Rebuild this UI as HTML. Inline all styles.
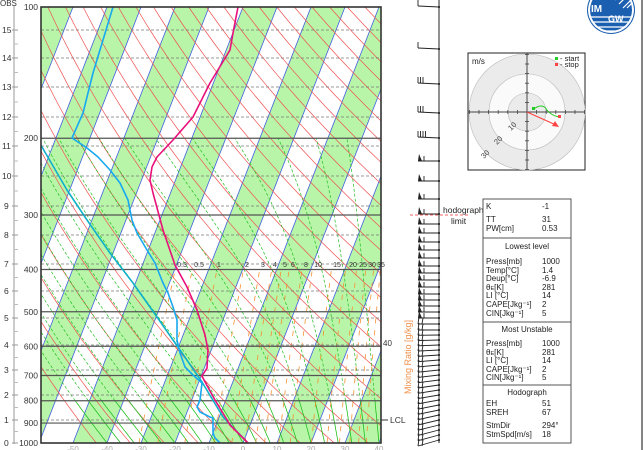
<!DOCTYPE html>
<html><head><meta charset="utf-8"><style>
body{margin:0;background:#fff;width:644px;height:450px;overflow:hidden}
svg{display:block}
text{font-family:"Liberation Sans",sans-serif}
</style></head><body>
<svg id="s" width="644" height="450" viewBox="0 0 644 450" xmlns="http://www.w3.org/2000/svg">
<defs><clipPath id="pc"><rect x="41" y="7" width="340" height="436"/></clipPath>
<clipPath id="lc"><circle cx="611" cy="10" r="23"/></clipPath></defs>
<rect width="644" height="450" fill="#fff"/>
<g id="plot" clip-path="url(#pc)"></g>
<rect x="41" y="7" width="340" height="436" fill="none" stroke="#333" stroke-width="1.6"/>
<line x1="14" y1="5" x2="14" y2="444" stroke="#999" stroke-width="1"/>
<g id="lax" font-size="8.5" fill="#333"></g>
<text x="0" y="6" font-size="8" fill="#333">OBS</text>
<g font-size="7" fill="#333" text-anchor="middle">
<text x="182" y="267">0.3</text><text x="199" y="267">0.5</text><text x="219" y="267">1</text>
<text x="247" y="267">2</text><text x="263" y="267">3</text><text x="275" y="267">4</text>
<text x="285" y="267">5</text><text x="293" y="267">6</text><text x="306" y="267">8</text>
<text x="318" y="267">10</text><text x="337" y="267">15</text><text x="353" y="267">20</text>
<text x="363" y="267">25</text><text x="372" y="267">30</text><text x="381" y="267">35</text>
</g>
<text x="383" y="346" font-size="8" fill="#333">40</text>
<line x1="381" y1="420" x2="388" y2="420" stroke="#333"/>
<text x="390" y="423" font-size="8.5" fill="#333">LCL</text>
<text transform="translate(411,357) rotate(-90)" font-size="9" fill="#f0904a" text-anchor="middle">Mixing Ratio [g/kg]</text>
<g font-size="8" fill="#aaa" text-anchor="middle" id="bt"></g>
<line x1="439" y1="0" x2="439" y2="443" stroke="#222" stroke-width="1"/>
<g id="wb" stroke="#222" stroke-width="0.9" fill="#222"></g>
<line x1="410" y1="215" x2="468" y2="215" stroke="#f03030" stroke-width="0.7" stroke-dasharray="3,2"/>
<text x="443" y="213" font-size="8.5" fill="#222">hodograph</text>
<text x="451" y="224" font-size="8.5" fill="#222">limit</text>
<line x1="642" y1="0" x2="642" y2="450" stroke="#333" stroke-width="1.2"/>
<!-- logo -->
<circle cx="611" cy="10" r="24" fill="#1a5fb0"/>
<g clip-path="url(#lc)">
<circle cx="611" cy="10" r="23" fill="#fff"/>
<circle cx="611" cy="10" r="21" fill="#1a5fb0"/>
<g stroke="#fff" stroke-width="1.2">
<line x1="615" y1="0" x2="630" y2="-15"/><line x1="619" y1="4" x2="638" y2="-15"/><line x1="623" y1="8" x2="642" y2="-11"/><line x1="627" y1="8" x2="642" y2="-7"/>
<line x1="588" y1="17" x2="636" y2="17"/><line x1="588" y1="22" x2="636" y2="22"/><line x1="588" y1="27" x2="636" y2="27"/><line x1="588" y1="31" x2="636" y2="31"/>
</g>
<text x="591" y="12" font-size="10" fill="#fff" font-weight="bold">IM</text>
<text x="608" y="22" font-size="9" fill="#fff" font-weight="bold">GW</text>
</g>
<!-- hodograph -->
<rect x="468" y="53" width="117" height="117" fill="#fff" stroke="#222" stroke-width="1"/>
<circle cx="527" cy="112" r="58" fill="#ebebeb" stroke="#bbb" stroke-width="0.6"/>
<circle cx="527" cy="112" r="38" fill="#fafafa" stroke="#bbb" stroke-width="0.6"/>
<circle cx="527" cy="112" r="19" fill="#ebebeb" stroke="#bbb" stroke-width="0.6"/>
<line x1="468" y1="112" x2="585" y2="112" stroke="#444" stroke-width="1"/>
<line x1="527" y1="53" x2="527" y2="170" stroke="#444" stroke-width="1"/>
<g id="ht" stroke="#444" stroke-width="0.8"></g>
<text x="472" y="64" font-size="8" fill="#222">m/s</text>
<rect x="555" y="57" width="3" height="3" fill="#2c2"/><text x="560" y="61" font-size="7.5" fill="#222">- start</text>
<rect x="555" y="63" width="3" height="3" fill="#f44"/><text x="560" y="67" font-size="7.5" fill="#222">- stop</text>
<g font-size="7.5" fill="#444">
<text transform="translate(511,131) rotate(-45)">10</text>
<text transform="translate(497,145) rotate(-45)">20</text>
<text transform="translate(484,159) rotate(-45)">30</text>
</g>
<path d="M534,109 C540,104 545,106 547,110 C550,114 554,116 559,117" fill="none" stroke="#2c2" stroke-width="1"/>
<rect x="532" y="107" width="3" height="3" fill="#2c2"/>
<rect x="558" y="115" width="3" height="3" fill="#f44"/>
<line x1="527" y1="112" x2="556" y2="125" stroke="#f44" stroke-width="1.2"/>
<polygon points="559,127 552,126 555,121" fill="#f44"/>
<!-- table -->
<g stroke="#555" stroke-width="1" fill="none">
<rect x="483" y="199" width="88" height="244"/>
<line x1="483" y1="238" x2="571" y2="238"/>
<line x1="483" y1="322" x2="571" y2="322"/>
<line x1="483" y1="385" x2="571" y2="385"/>
</g>
<g font-size="8" fill="#222">
<text x="486" y="209">K</text><text x="542" y="209">-1</text>
<text x="486" y="222">TT</text><text x="542" y="222">31</text>
<text x="486" y="231">PW[cm]</text><text x="542" y="231">0.53</text>
<text x="527" y="249" text-anchor="middle">Lowest level</text>
<text x="486" y="264">Press[mb]</text><text x="542" y="264">1000</text>
<text x="486" y="273">Temp[°C]</text><text x="542" y="273">1.4</text>
<text x="486" y="281">Deup[°C]</text><text x="542" y="281">-6.9</text>
<text x="486" y="290">θ<tspan font-size="5.5">E</tspan>[K]</text><text x="542" y="290">281</text>
<text x="486" y="298">LI [°C]</text><text x="542" y="298">14</text>
<text x="486" y="307">CAPE[Jkg⁻¹]</text><text x="542" y="307">2</text>
<text x="486" y="316">CIN[Jkg⁻¹]</text><text x="542" y="316">5</text>
<text x="527" y="332" text-anchor="middle">Most Unstable</text>
<text x="486" y="346">Press[mb]</text><text x="542" y="346">1000</text>
<text x="486" y="355">θ<tspan font-size="5.5">E</tspan>[K]</text><text x="542" y="355">281</text>
<text x="486" y="363">LI [°C]</text><text x="542" y="363">14</text>
<text x="486" y="372">CAPE[Jkg⁻¹]</text><text x="542" y="372">2</text>
<text x="486" y="380">CIN[Jkg⁻¹]</text><text x="542" y="380">5</text>
<text x="527" y="395" text-anchor="middle">Hodograph</text>
<text x="486" y="406">EH</text><text x="542" y="406">51</text>
<text x="486" y="415">SREH</text><text x="542" y="415">67</text>
<text x="486" y="428">StmDir</text><text x="542" y="428">294°</text>
<text x="486" y="437">StmSpd[m/s]</text><text x="542" y="437">18</text>
</g>
</svg>
<script>
var NS="http://www.w3.org/2000/svg";
function el(p,t,a){var e=document.createElementNS(NS,t);for(var k in a)e.setAttribute(k,a[k]);p.appendChild(e);return e;}
function L(p){return Math.log10(1000/p);}
function X(T,p){return 243+3.4*T+170*L(p);}
function Y(p){return 443-436*L(p);}
var g=document.getElementById('plot');
for(var T=-170;T<=60;T+=20){
 el(g,'polygon',{points:[X(T,1000),443,X(T+10,1000),443,X(T+10,100),7,X(T,100),7].join(' '),fill:'#b8f5a8'});
}
for(var T=-180;T<=60;T+=10){
 el(g,'line',{x1:X(T,1000),y1:443,x2:X(T,100),y2:7,stroke:'#4060e0','stroke-width':0.8});
}
for(var th=230;th<=520;th+=10){
 var pts=[];for(var p=1000;p>=100;p-=10){var T=th*Math.pow(p/1000,0.2857)-273.15;pts.push(X(T,p).toFixed(1)+','+Y(p).toFixed(1));}
 el(g,'polyline',{points:pts.join(' '),fill:'none',stroke:'#f05050','stroke-width':0.7});
}
function es(T){return 6.112*Math.exp(17.67*T/(T+243.5));}
for(var T0=-40;T0<=40;T0+=4){
 var T=T0,lo=[],hi=[];
 for(var p=1000;p>=200;p-=5){
  var s=X(T,p).toFixed(1)+','+Y(p).toFixed(1);
  if(p>=800)lo.push(s);if(p<=800)hi.push(s);
  var Tk=T+273.15,e=es(T),rs=0.622*e/(p-e);
  var dTdp=(287*Tk+2.5e6*rs)/(1004+2.5e6*2.5e6*rs*0.622/(287*Tk*Tk))/p;
  T-=dTdp*5;
 }
 el(g,'polyline',{points:lo.join(' '),fill:'none',stroke:'#20c020','stroke-width':0.8});
 el(g,'polyline',{points:hi.join(' '),fill:'none',stroke:'#20c020','stroke-width':0.7,'stroke-dasharray':'3,2'});
}
[0.3,0.5,1,2,3,4,5,6,8,10,15,20,25,30,35,40].forEach(function(w){
 var pts=[];for(var p=1000;p>=400;p-=10){var e=w*p/(622+w),l=Math.log(e/6.112),T=243.5*l/(17.67-l);pts.push(X(T,p).toFixed(1)+','+Y(p).toFixed(1));}
 el(g,'polyline',{points:pts.join(' '),fill:'none',stroke:'#f59030','stroke-width':0.8,'stroke-dasharray':'5,7'});
});
var km=[443,420,395,370,345,318,291,264,235,206,176,146,117,87,58,30];
for(var i=1;i<km.length;i++) el(g,'line',{x1:41,y1:km[i],x2:381,y2:km[i],stroke:'#777','stroke-width':0.7,'stroke-dasharray':'3,2'});
for(var p=200;p<=900;p+=100) el(g,'line',{x1:41,y1:Y(p),x2:381,y2:Y(p),stroke:'#555','stroke-width':1.2});
function pl(pts,c,w){el(g,'polyline',{points:pts,fill:'none',stroke:c,'stroke-width':w,'stroke-linejoin':'round'});}
pl("248,443 223,417 202,382 180,350 157,317 133,283 110,253 87,220 67,190 42,147 38,140",'#10b0c8',1.6);
pl("220,443 215,438 213,433 213,418 210,417 200,412 197,407 200,400 202,383 193,375 185,367 180,353 177,340 177,320 173,307 168,293 163,283 155,263 147,250 137,233 132,220 128,200 120,183 110,170 98,157 87,148 72,138 83,113 93,73 103,40 113,7",'#18a8f0',1.6);
pl("248,443 230,425 215,400 204,380 202,376 207,368 208,350 205,335 197,310 187,287 175,265 163,230 153,193 150,180 152,167 157,157 173,140 193,117 210,83 230,50 233,33 238,7",'#e8107a',1.6);
var la=document.getElementById('lax');
for(var i=0;i<km.length;i++){
 el(la,'text',{x:i>=10?2:4,y:km[i]+3}).textContent=String(i);
 el(la,'line',{x1:12,y1:km[i],x2:18,y2:km[i],stroke:'#999'});
 if(i<15){var m=(km[i]+km[i+1])/2;el(la,'line',{x1:14,y1:m,x2:18,y2:m,stroke:'#bbb'});}
}
for(var p=100;p<=1000;p+=100){
 var t=el(la,'text',{x:38,y:Y(p)+3,'text-anchor':'end'});t.textContent=String(p);
}
var bt=document.getElementById('bt');
for(var T=-50;T<=40;T+=10){el(bt,'text',{x:X(T,1000),y:452}).textContent=String(T);}
var ht=document.getElementById('ht');
for(var k=-6;k<=6;k++){if(!k)continue;var d=k*9.6;
 el(ht,'line',{x1:527+d,y1:110,x2:527+d,y2:114});el(ht,'line',{x1:525,y1:112+d,x2:529,y2:112+d});}
var wb=document.getElementById('wb');
var ys=[7,49,84,113,138,161,181,199,214,224,233,242,250,258,266,273,280,287,294,300,306,312,318,324,330,335,340,345,350,355,360,365,370,375,380,385,390,395,400,405,410,415,420,425,430,435,440];
ys.forEach(function(y,i){
 var dy=y>330?(y-330)/110*6:(y<150?-1:0);
 var lx=418,ly=y+dy;
 el(wb,'line',{x1:439,y1:y,x2:lx,y2:ly});
 el(wb,'circle',{cx:439,cy:y,r:1.1,stroke:'none'});
 if(y<150){var n=i<2?1:(i<4?3:4);for(var k=0;k<n;k++){el(wb,'line',{x1:lx+k*2.5,y1:ly,x2:lx+k*2.5,y2:ly-6});}}
 else if(y<320){el(wb,'polygon',{points:[lx,ly,lx+4,ly,lx+1,ly-7].join(' '),stroke:'none'});el(wb,'line',{x1:lx+6,y1:ly,x2:lx+6,y2:ly-5});}
 else{el(wb,'line',{x1:lx,y1:ly,x2:lx+1,y2:ly-7});el(wb,'line',{x1:lx+4,y1:ly,x2:lx+5,y2:ly-6});}
});
</script>
</body></html>
